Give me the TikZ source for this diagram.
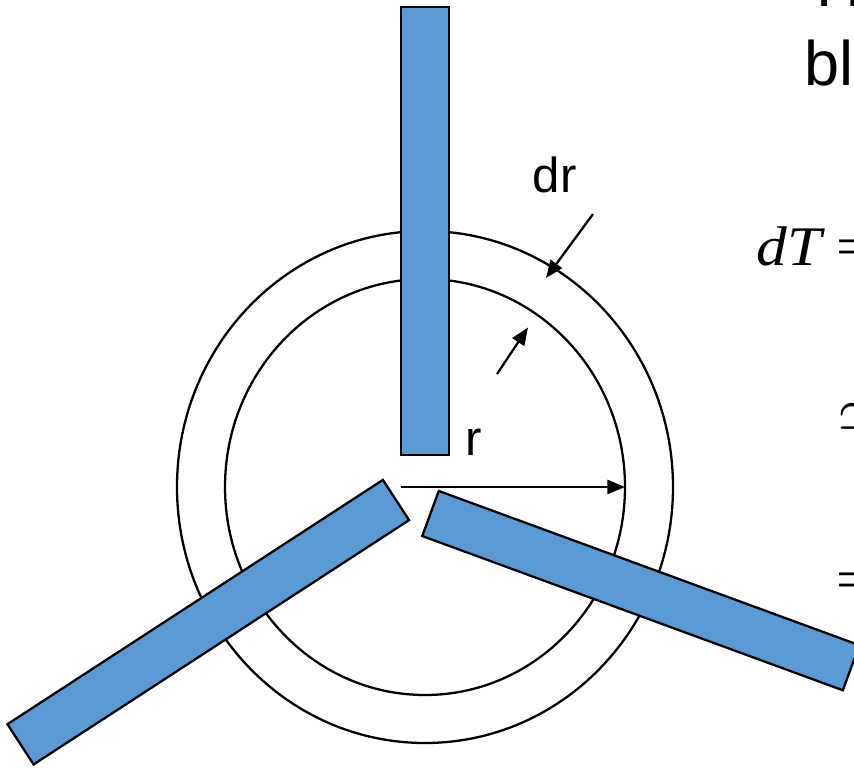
\documentclass[tikz,border=0pt]{standalone}
\usepackage{fontspec}
\setmainfont{Liberation Sans}
\newfontfamily\timesfont{Liberation Serif}
\usetikzlibrary{arrows.meta}
\definecolor{bladeblue}{HTML}{5B9BD5}

\begin{document}
\begin{tikzpicture}[
  ring/.style={draw=black, line width=0.65pt},
  blade/.style={draw=black, fill=bladeblue, line width=0.65pt},
  dim/.style={line width=0.65pt, -{Triangle[length=5pt, width=4pt]}},
  lbl/.style={inner sep=0pt, anchor=base west},
  eqtext/.style={lbl, font=\timesfont\fontsize{15.9}{19}\selectfont}]

\useasboundingbox (0,0) rectangle (8.54,7.67);
\clip (0,0) rectangle (8.54,7.67);

\coordinate (hub) at (4.25,2.80);

% rings of radius r and r+dr
\draw[ring] (hub) ellipse [x radius=2.48, y radius=2.56];
\draw[ring] (hub) ellipse [x radius=2.00, y radius=2.08];

% the three blades
\foreach \bx/\by/\ang in {4.25/3.12/90, 3.96/2.67/213.05, 4.305/2.535/-20.14}
  \draw[blade, shift={(\bx,\by)}, rotate=\ang] (0,-0.24) rectangle (4.48,0.24);

\coordinate (rtail) at (4.01,2.80);
\coordinate (rtip) at (6.25,2.80);
\coordinate (drA) at (5.93,5.53);
\coordinate (drB) at (5.46,4.89);
\coordinate (drC) at (4.97,3.93);
\coordinate (drD) at (5.28,4.395);

\draw[dim] (rtail) -- (rtip);
\draw[dim] (drA) -- (drB);
\draw[dim] (drC) -- (drD);

\node[lbl, font=\fontsize{14}{17}\selectfont] (r) at (4.645,3.12) {r};
\node[lbl, font=\fontsize{14}{17}\selectfont] (dr) at (5.32,5.75) {dr};

% text on the right, cut by the edge
\node[lbl, font=\fontsize{17.9}{21}\selectfont] (title) at (8.16,7.60) {H};
\node[lbl, font=\fontsize{17.9}{21}\selectfont] (blade) at (8.04,6.82) {bl};

\node[eqtext] (dT) at (7.56,5.02) {\scalebox{1.1}[1]{\itshape dT}};
\node[eqtext] (eqA) at (8.36,5.02) {\scalebox{1.1}[1]{=}};
\node[lbl, font=\fontsize{15.9}{19}\selectfont] (eqB) at (8.37,3.36) {\scalebox{1.1}[1]{$\simeq$}};
\node[eqtext] (eqC) at (8.36,1.69) {\scalebox{1.1}[1]{=}};

\end{tikzpicture}
\end{document}
